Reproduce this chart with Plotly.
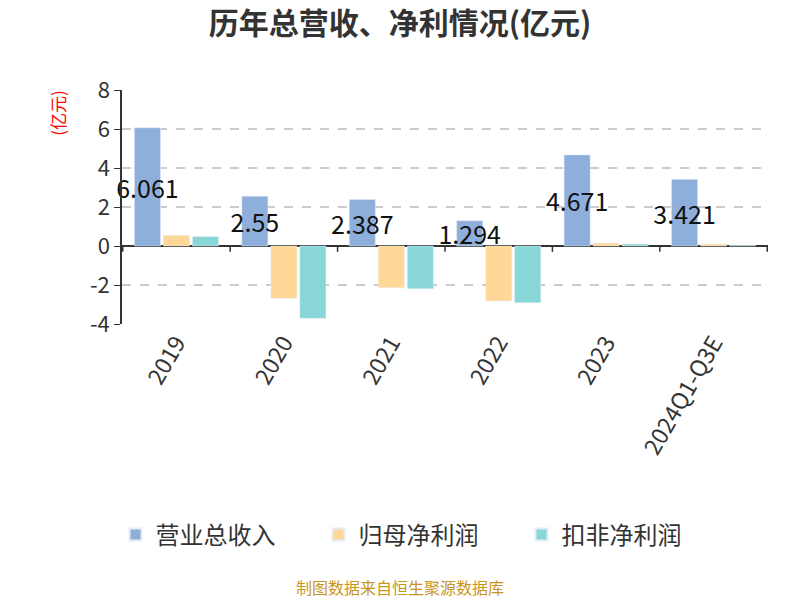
import plotly.graph_objects as go

categories = ["2019", "2020", "2021", "2022", "2023", "2024Q1-Q3E"]
revenue = [6.061, 2.55, 2.387, 1.294, 4.671, 3.421]
net_profit = [0.55, -2.68, -2.14, -2.82, 0.15, 0.10]
net_profit_deducted = [0.48, -3.71, -2.19, -2.91, 0.10, 0.03]
revenue_labels = ["6.061", "2.55", "2.387", "1.294", "4.671", "3.421"]
y_tick_values = [-4, -2, 0, 2, 4, 6, 8]
y_tick_labels = ["-4", "-2", "0", "2", "4", "6", "8"]

FONT = "Noto Sans CJK SC"

fig = go.Figure()
fig.add_trace(go.Bar(
    name="营业总收入", x=categories, y=revenue, marker_color="#8eaedb",
    text=revenue_labels, textposition="inside", insidetextanchor="middle",
    textfont=dict(size=25, color="#111", family=FONT), textangle=0, cliponaxis=False,
))
fig.add_trace(go.Bar(name="归母净利润", x=categories, y=net_profit, marker_color="#ffd898"))
fig.add_trace(go.Bar(name="扣非净利润", x=categories, y=net_profit_deducted, marker_color="#88d6d8"))

# tick marks on the zero line between categories
shapes = []
for i in range(len(categories) + 1):
    shapes.append(dict(type="line", xref="x", yref="y", x0=i - 0.5, x1=i - 0.5,
                       y0=0, y1=-0.3, line=dict(color="#333", width=1.5)))

fig.update_layout(
    width=800, height=600,
    paper_bgcolor="white", plot_bgcolor="white",
    font=dict(family=FONT, color="#333"),
    title=dict(text="<b>历年总营收、净利情况(亿元)</b>", x=0.5, xanchor="center", xref="container",
               y=1 - 23 / 600, yref="container", yanchor="middle",
               font=dict(size=30, color="#333", family=FONT)),
    margin=dict(l=122, r=32, t=90, b=276, autoexpand=False),
    barmode="group", bargap=0.19, bargroupgap=0.1,
    uniformtext=dict(minsize=25, mode="show"),
    showlegend=True,
    legend=dict(orientation="h", x=0.525, xanchor="center", xref="container",
                y=1 - 535 / 600, yref="container", yanchor="middle",
                font=dict(size=24, color="#333", family=FONT), itemsizing="constant",
                entrywidth=158, traceorder="normal"),
    shapes=shapes,
    annotations=[
        dict(text="(亿元)", xref="paper", yref="paper", x=-0.099, y=1.01, xanchor="center",
             yanchor="top", textangle=-90, showarrow=False,
             font=dict(size=17, color="red", family=FONT)),
        dict(text="制图数据来自恒生聚源数据库", xref="paper", yref="paper",
             x=(400 - 122) / 646, y=(324 - 587) / 234,
             xanchor="center", yanchor="middle", showarrow=False,
             font=dict(size=16, color="#c8961e", family=FONT)),
    ],
)
fig.update_yaxes(range=[-4, 8], tickvals=y_tick_values, ticktext=y_tick_labels,
                 showgrid=True, gridcolor="#cccccc",
                 griddash="dash", gridwidth=1.5, zeroline=True, zerolinecolor="#333",
                 zerolinewidth=1.5, showline=True, linecolor="#333", linewidth=1.5,
                 ticks="outside", ticklen=6, tickcolor="#333", automargin=False,
                 tickfont=dict(size=22, color="#333"))
fig.update_xaxes(showline=False, showgrid=False, zeroline=False, tickangle=-60,
                 automargin=False, tickfont=dict(size=23, color="#333"), ticks="")

fig.write_html("out.html", config={"displayModeBar": False},
               post_script="document.body.style.margin='0';")
